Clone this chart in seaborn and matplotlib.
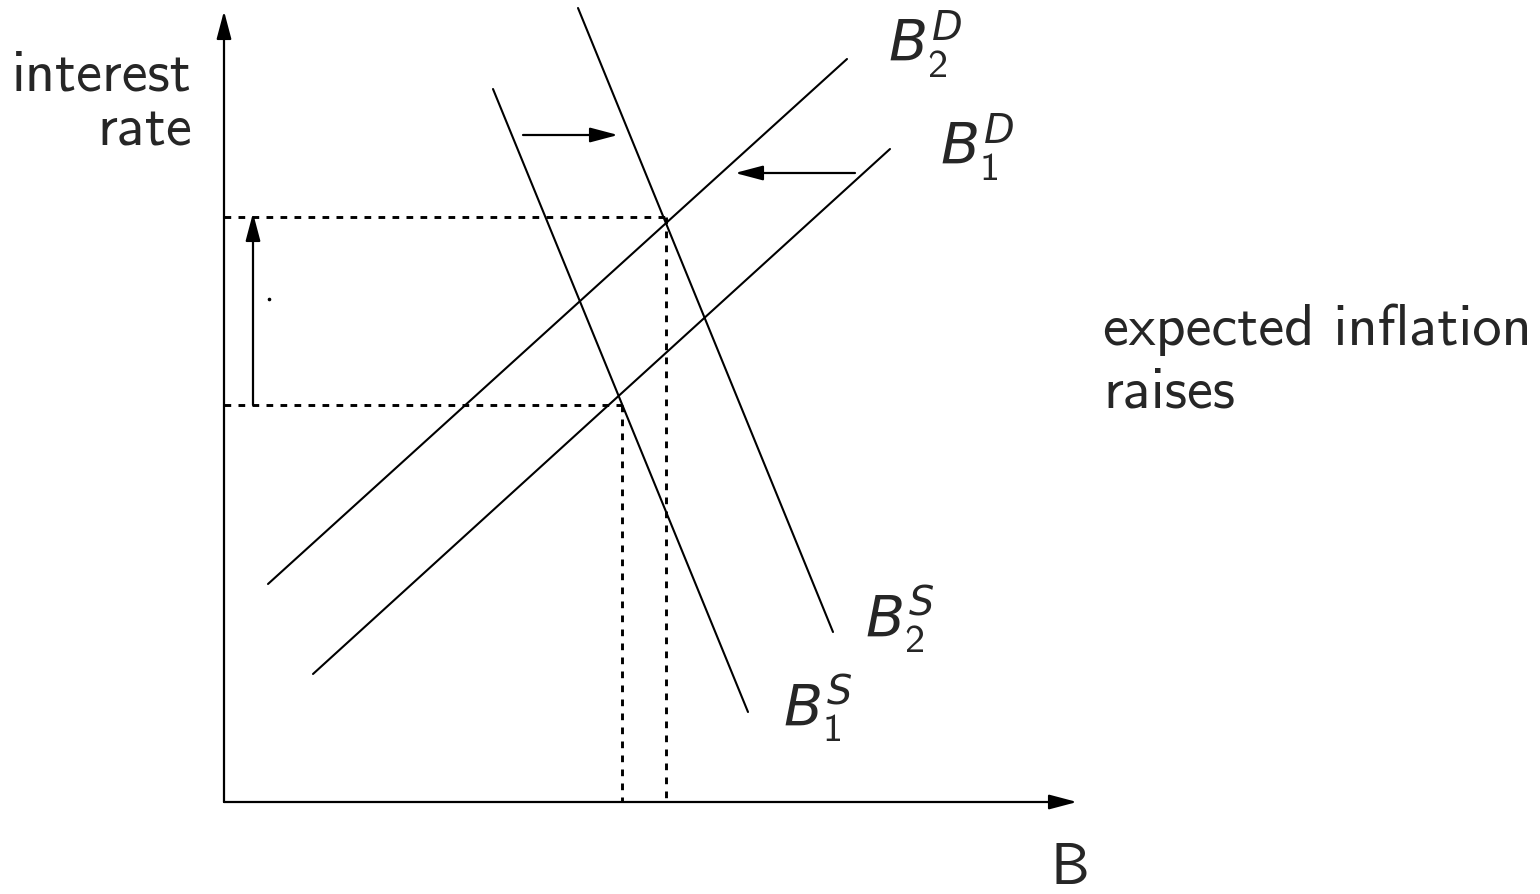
import matplotlib
matplotlib.use('Agg')
import matplotlib.pyplot as plt
import seaborn as sns
import pandas as pd

# coordenadas del diagrama (unidades de pixel de la imagen, y hacia abajo)
curve_names = ['B1S', 'B2S', 'B2D', 'B1D']
curve_x0 = [493, 578, 268, 313]
curve_y0 = [90, 9, 585, 675]
curve_x1 = [748, 833, 847, 890]
curve_y1 = [713, 633, 60, 150]

# niveles de equilibrio (interes y cantidad)
eq_rate = [406, 218]
eq_qty = [622, 666]
origin_x, origin_y = 224, 803

# flechas: (inicio) -> (fin)
arrow_start = [(224, 803), (224, 803), (253, 406), (523, 136), (855, 174)]
arrow_end = [(224, 12), (1077, 803), (253, 214), (618, 136), (735, 174)]

labels = [r'$B_1^S$', r'$B_2^S$', r'$B_2^D$', r'$B_1^D$']
label_x = [783, 865, 888, 940]
label_y = [727, 638, 62, 165]  # linea base

sns.set_style('white')
plt.rcParams['font.family'] = ['cmss10', 'DejaVu Sans']
plt.rcParams['mathtext.fontset'] = 'custom'
plt.rcParams['mathtext.rm'] = 'cmss10'
plt.rcParams['mathtext.it'] = 'DejaVu Sans:italic'
plt.rcParams['axes.unicode_minus'] = False

fig = plt.figure(figsize=(15.4, 8.95), dpi=100)
ax = fig.add_axes([0, 0, 1, 1])

# curvas de oferta y demanda
for i, name in enumerate(curve_names):
    df = pd.DataFrame({'x': [curve_x0[i], curve_x1[i]], 'y': [curve_y0[i], curve_y1[i]]})
    sns.lineplot(data=df, x='x', y='y', sort=False, estimator=None, color='black', lw=1.5, ax=ax)

# lineas punteadas de equilibrio
for r, q in zip(eq_rate, eq_qty):
    h = pd.DataFrame({'x': [origin_x, q], 'y': [r, r]})
    v = pd.DataFrame({'x': [q, q], 'y': [r, origin_y]})
    for d in (h, v):
        sns.lineplot(data=d, x='x', y='y', sort=False, estimator=None, color='black',
                     lw=2.1, linestyle=(0, (2.3, 2.5)), ax=ax)

# flechas
for s, e in zip(arrow_start, arrow_end):
    ax.annotate('', xy=e, xytext=s,
                arrowprops=dict(arrowstyle='-|>,head_length=1.7,head_width=0.45',
                                color='black', lw=1.6, shrinkA=0, shrinkB=0))

# punto suelto
ax.plot([269], [300], marker='o', ms=1.6, color='black')

# textos
fs = 42
ax.text(192, 90, 'interest', fontsize=fs, ha='right', va='baseline')
ax.text(192, 145, 'rate', fontsize=fs, ha='right', va='baseline')
ax.text(1103, 345, 'expected inflation', fontsize=fs, ha='left', va='baseline')
ax.text(1103, 408, 'raises', fontsize=fs, ha='left', va='baseline')
ax.text(1070, 884, 'B', fontsize=fs, ha='center', va='baseline')
for t, lx, ly in zip(labels, label_x, label_y):
    ax.text(lx, ly, t, fontsize=41, ha='left', va='baseline')

ax.set_xlim(0, 1540)
ax.set_ylim(895, 0)
ax.axis('off')

plt.savefig('out.png', dpi=100)
